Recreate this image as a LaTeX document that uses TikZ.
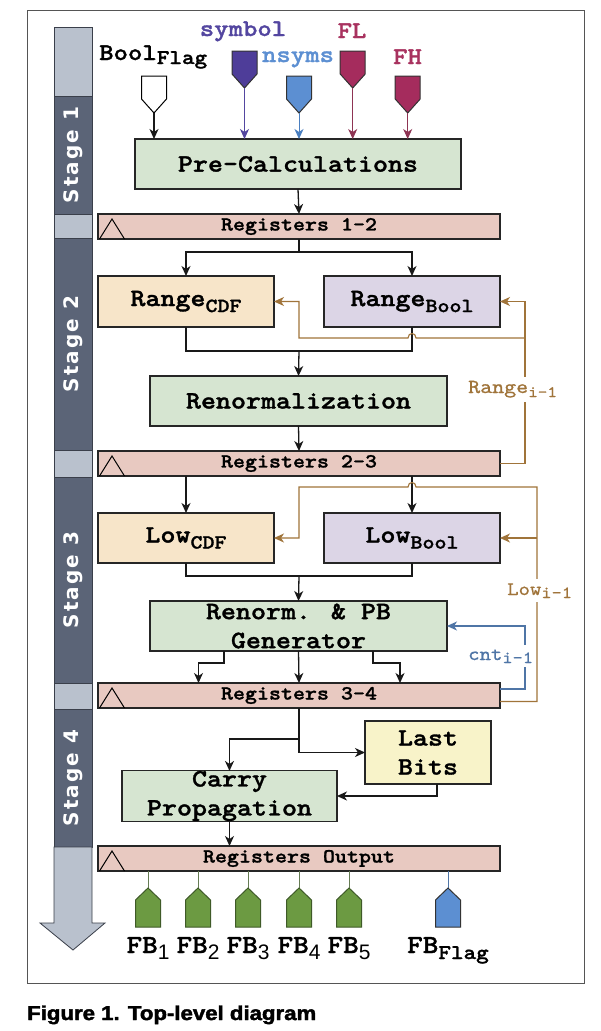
\documentclass[tikz,border=0pt]{standalone}
\usepackage{fontspec}
\newfontfamily\cour{lmmonolt10-bold}[Extension=.otf, FakeStretch=1.143, FakeBold=1.3]
\newfontfamily\courr{lmmono10-regular}[Extension=.otf, FakeStretch=1.143, FakeBold=0.8]
\newfontfamily\stagefont{DejaVu Sans}[LetterSpace=10]
\newfontfamily\sansf{Liberation Sans}[BoldFeatures={FakeBold=2}]
\usetikzlibrary{arrows.meta,calc}
\newcommand\fs[1]{\fontsize{#1}{#1}\selectfont}
\newcommand\sbx[3]{\raisebox{-#1pt}{\fs{#2}#3}}
\definecolor{grnc}{HTML}{D6E5D1}
\definecolor{peach}{HTML}{F7E5C9}
\definecolor{lav}{HTML}{DCD5E6}
\definecolor{regc}{HTML}{E8C9C1}
\definecolor{yel}{HTML}{F8F3C9}
\definecolor{std}{HTML}{5B6477}
\definecolor{stl}{HTML}{B9C1CD}
\definecolor{stb}{HTML}{3A3F4A}
\definecolor{brn}{HTML}{A0743A}
\definecolor{cntb}{HTML}{4F75A6}
\definecolor{symc}{HTML}{4E3D99}
\definecolor{symt}{HTML}{5346A0}
\definecolor{nsc}{HTML}{5C8FD2}
\definecolor{nsl}{HTML}{4A7FC0}
\definecolor{flc}{HTML}{A52C5D}
\definecolor{flt}{HTML}{A8325F}
\definecolor{fll}{HTML}{8E3453}
\definecolor{outg}{HTML}{6C9A42}
\definecolor{outgd}{HTML}{3F5A28}
\definecolor{frm}{HTML}{555555}
\tikzset{
  box/.style={draw=black!85, line width=1.1pt, inner sep=0pt, outer sep=0pt,
    font=\cour\fontsize{25}{29}\selectfont, align=center},
  regbar/.style={box, fill=regc, minimum width=402pt, minimum height=25pt,
    font=\cour\fs{20}},
  tip/.style={-{Stealth[length=10pt,width=9pt,inset=3pt]}},
  arr/.style={tip, line width=1.3pt, draw=black!90},
  plain/.style={line width=1.3pt, draw=black!90},
  fbr/.style={tip, line width=1.1pt, draw=brn},
  fbb/.style={tip, line width=1.1pt, draw=cntb},
  lbl/.style={fill=white, inner xsep=1pt, inner ysep=4pt, font=\courr\fs{20}},
  toplbl/.style={anchor=base, inner sep=0pt, font=\cour\fs{24}},
  stg/.style={rotate=90, anchor=base, text=white, inner sep=0pt, font=\stagefont\bfseries\fs{20}},
  stseg/.style={draw=stb, line width=0.8pt},
  pent/.style={line width=1pt},
  fblab/.style={anchor=base, inner sep=0pt, font=\cour\fs{26}},
}
\newcommand\penDown[4]{\filldraw[pent, fill=#3, draw=#4] (#1-12.5,#2) -- (#1+12.5,#2) -- (#1+12.5,#2+23) -- (#1,#2+37) -- (#1-12.5,#2+23) -- cycle;}
\newcommand\penUp[4]{\filldraw[pent, fill=#3, draw=#4] (#1-12.5,#2+39) -- (#1+12.5,#2+39) -- (#1+12.5,#2+12) -- (#1,#2) -- (#1-12.5,#2+12) -- cycle;}
\begin{document}
\begin{tikzpicture}[x=1pt,y=-1pt]
\useasboundingbox (0,0) rectangle (600,1031);
\fill[white] (0,0) rectangle (600,1031);
% frame
\draw[draw=frm, line width=1pt] (27,10) rectangle (584,983);
% stage bar
\filldraw[stseg, fill=stl] (54,27) rectangle (92,96);
\filldraw[stseg, fill=std] (54,96) rectangle (92,214);
\filldraw[stseg, fill=stl] (54,214) rectangle (92,238);
\filldraw[stseg, fill=std] (54,238) rectangle (92,450);
\filldraw[stseg, fill=stl] (54,450) rectangle (92,477);
\filldraw[stseg, fill=std] (54,477) rectangle (92,683);
\filldraw[stseg, fill=stl] (54,683) rectangle (92,709);
\filldraw[stseg, fill=std] (54,709) rectangle (92,847);
\filldraw[stseg, fill=stl] (54,847) -- (92,847) -- (92,923) -- (105,923) -- (73,950) -- (40,923) -- (54,923) -- cycle;
\node[stg] (s1) at (78,155) {Stage 1};
\node[stg] (s2) at (78,344) {Stage 2};
\node[stg] (s3) at (78,580) {Stage 3};
\node[stg] (s4) at (78,778) {Stage 4};
% boxes
\node[box, fill=grnc, minimum width=326pt, minimum height=50pt] (pre) at (298,164) {Pre-Calculations};
\node[regbar] (reg12) at (299,226.5) {Registers 1-2};
\node[box, fill=peach, minimum width=176pt, minimum height=51pt] (rcdf) at (186,301.5) {Range\sbx{6}{20}{CDF}};
\node[box, fill=lav, minimum width=176pt, minimum height=51pt] (rbool) at (412,301.5) {Range\sbx{6}{20}{Bool}};
\node[box, fill=grnc, minimum width=297pt, minimum height=50pt] (renorm) at (298.5,401) {Renormalization};
\node[regbar] (reg23) at (299,463.5) {Registers 2-3};
\node[box, fill=peach, minimum width=176pt, minimum height=50pt] (lcdf) at (186,538) {Low\sbx{6}{20}{CDF}};
\node[box, fill=lav, minimum width=176pt, minimum height=50pt] (lbool) at (412,538) {Low\sbx{6}{20}{Bool}};
\node[box, fill=grnc, minimum width=297pt, minimum height=50pt] (pb) at (298.5,626) {Renorm. \& PB\\Generator};
\node[regbar] (reg34) at (299,695.5) {Registers 3-4};
\node[box, fill=yel, minimum width=126pt, minimum height=63pt] (last) at (428,752.5) {Last\\Bits};
\node[box, fill=grnc, minimum width=215pt, minimum height=50pt] (carry) at (229.5,796) {Carry\\Propagation};
\node[regbar] (regout) at (299,858.5) {Registers Output};
% register clock triangles
\foreach \r in {reg12,reg23,reg34,regout}{
  \draw[line width=1pt] ($(\r.south west)+(1.5,0)$) -- ($(\r.south west)+(14,-20)$) -- ($(\r.south west)+(26.5,0)$);
}
% inputs
\node[toplbl, anchor=base west] (tbool) at (99,60) {Bool\sbx{4}{21}{Flag}};
\node[toplbl, text=symt] (tsym) at (243,36) {symbol};
\node[toplbl, text=nsc] (tns) at (298,62) {nsyms};
\node[toplbl, text=flt] (tfl) at (352,38) {FL};
\node[toplbl, text=flt] (tfh) at (407.5,64) {FH};
\penDown{154}{76}{white}{black}
\penDown{244.5}{51}{symc}{black!80}
\penDown{299}{76}{nsc}{black!80}
\penDown{352.7}{51}{flc}{black!80}
\penDown{407.7}{76}{flc}{black!80}
\coordinate (iB) at (154,113);
\coordinate (iS) at (244.5,88);
\coordinate (iN) at (299,113);
\coordinate (iL) at (352.7,88);
\coordinate (iH) at (407.7,113);
\draw[arr] (iB) -- (iB |- pre.north);
\draw[arr, draw=symt, line width=1pt] (iS) -- (iS |- pre.north);
\draw[arr, draw=nsl, line width=1pt] (iN) -- (iN |- pre.north);
\draw[arr, draw=fll, line width=1pt] (iL) -- (iL |- pre.north);
\draw[arr, draw=fll, line width=1pt] (iH) -- (iH |- pre.north);
% stage 1 -> 2
\draw[arr] (pre.south) -- (reg12.north);
\draw[arr] (reg12.south) -- ++(0,13) -| (rcdf.north);
\draw[arr] (reg12.south) -- ++(0,13) -| (rbool.north);
\coordinate (m2) at ($(rcdf.south)!0.5!(rbool.south)+(0,24)$);
\draw[plain] (rcdf.south) |- (m2) -| (rbool.south);
\draw[arr] (m2) -- (renorm.north);
\draw[arr] (renorm.south) -- (reg23.north);
% range feedback
\coordinate (rb) at ($(reg23.east)+(25,0)$);
\coordinate (hopc) at ($(rbool.south)+(0,11)$);
\draw[fbr] (reg23.east) -- (rb) -- (rb |- rbool.east) -- (rbool.east);
\draw[fbr] (rb |- hopc) -- ($(hopc)+(4,0)$) .. controls ($(hopc)+(4,-6)$) and ($(hopc)+(-4,-6)$) .. ($(hopc)+(-4,0)$) -- (hopc -| m2) -- (m2 |- rcdf.east) -- (rcdf.east);
\node[lbl, text=brn, anchor=base west] (rlab) at (467,393) {Range\sbx{4}{16}{i-1}};
% stage 3
\draw[arr] (reg23.south -| lcdf.north) -- (lcdf.north);
\draw[arr] (reg23.south -| lbool.north) -- (lbool.north);
\coordinate (m3) at ($(lcdf.south)!0.5!(lbool.south)+(0,13)$);
\draw[plain] (lcdf.south) |- (m3) -| (lbool.south);
\draw[arr] (m3) -- (pb.north);
\draw[arr] (pb.south) -- (reg34.north);
\draw[arr] ($(pb.south)+(-74.5,0)$) -- ++(0,12) -| ($(reg34.north)+(-100.5,0)$);
\draw[arr] ($(pb.south)+(74.5,0)$) -- ++(0,12) -| ($(reg34.north)+(101,0)$);
% low feedback
\coordinate (lb) at ($(reg34.east)+(37,6)$);
\coordinate (hopl) at ($(reg23.south -| lbool.north)+(0,11)$);
\draw[fbr] ($(reg34.east)+(0,6)$) -- (lb) -- (lb |- hopl) -- ($(hopl)+(4,0)$) .. controls ($(hopl)+(4,-6)$) and ($(hopl)+(-4,-6)$) .. ($(hopl)+(-4,0)$) -- (hopl -| m2) -- (m2 |- lcdf.east) -- (lcdf.east);
\draw[fbr] (lb |- lbool.east) -- (lbool.east);
\node[lbl, text=brn, anchor=base west, font=\courr\fs{19}] (llab) at (506,595) {Low\sbx{3}{17}{i-1}};
% cnt feedback
\coordinate (cb) at ($(reg34.east)+(25,-6.5)$);
\draw[fbb] ($(reg34.east)+(0,-6.5)$) -- (cb) -- (cb |- pb.east) -- (pb.east);
\node[lbl, text=cntb, anchor=base west, font=\courr\fs{19}] (clab) at (467,660) {cnt\sbx{3}{17}{i-1}};
% stage 4
\coordinate (m4) at ($(reg34.south)+(0,31)$);
\draw[arr] (reg34.south) |- (last.west);
\draw[arr] (m4) -| (carry.north);
\draw[arr] ($(last.south)+(9,0)$) |- (carry.east);
\draw[arr] (carry.south) -- (carry.south |- regout.north);
% outputs
\foreach \x/\n in {148/1,198/2,248/3,299/4,349/5}{
  \coordinate (o\n) at (\x,888);
  \draw[draw=outgd!80, line width=0.8pt] (o\n |- regout.south) -- (o\n);
  \penUp{\x}{888}{outg}{outgd}
  \node[fblab] (fb\n) at (\x,953) {FB\sbx{6}{21}{\sansf\n}};
}
\coordinate (oF) at (448,888);
\draw[draw=cntb, line width=0.8pt] (oF |- regout.south) -- (oF);
\penUp{448}{888}{nsc}{black!80}
\node[fblab] (fbf) at (448,953) {FB\sbx{6}{21}{Flag}};
% caption
\node[anchor=base west, inner sep=0pt] (cap) at (27,1020) {\scalebox{1.11}[1]{\sansf\bfseries\fs{20}Figure 1. Top-level diagram}};
\end{tikzpicture}
\end{document}
